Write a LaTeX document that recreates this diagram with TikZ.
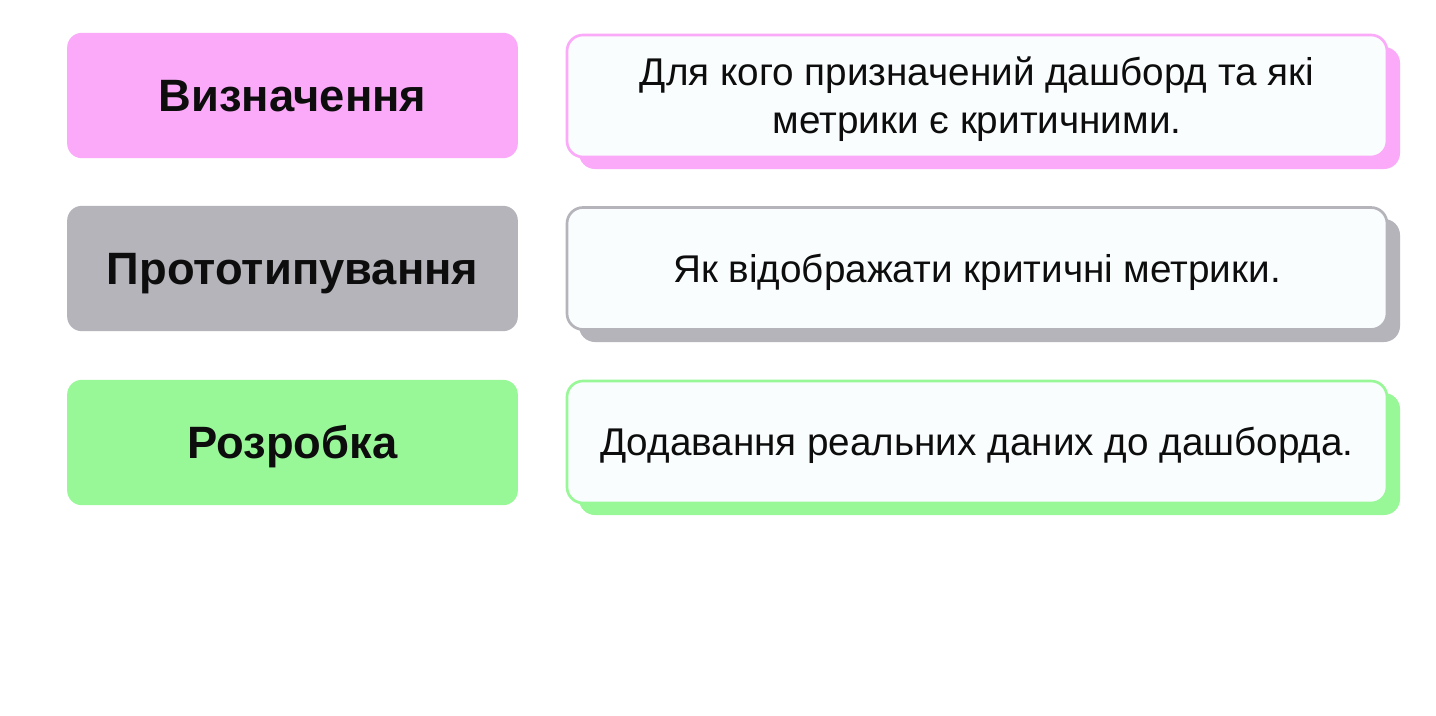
\documentclass[tikz,border=0pt]{standalone}
\usepackage{fontspec}
\setmainfont{Liberation Sans}
\usetikzlibrary{positioning}
\definecolor{pinkstage}{HTML}{FAAAF8}
\definecolor{greystage}{HTML}{B4B4BA}
\definecolor{greenstage}{HTML}{98F898}
\definecolor{notefill}{HTML}{FAFDFE}
\tikzset{
  stage/.style={rounded corners=11pt, minimum width=338pt, minimum height=94pt, inner sep=0pt,
    text height=24.3pt, text depth=0pt,
    font=\fontsize{34}{40}\selectfont\bfseries, text=black!95},
  note/.style={rounded corners=12pt, minimum width=615pt, minimum height=91.5pt, inner sep=0pt,
    text height=20.8pt, text depth=0pt,
    fill=notefill, line width=2pt, align=center, font=\fontsize{29}{36}\selectfont, text=black!95},
}
\begin{document}
\begin{tikzpicture}[x=0.75pt, y=-0.75pt]
			%%%%% START %%%%%
			\useasboundingbox[fill=white] (0, 0) rectangle (1436, 715);
			
			\node[stage, fill=pinkstage] (def) at (292.5, 95.5) {Визначення};
			\node[stage, fill=greystage] (proto) at (292.5, 268.5) {Прототипування};
			\node[stage, fill=greenstage] (dev) at (292.5, 442.5) {Розробка};
			
			% shadows under the notes
			\fill[pinkstage, rounded corners=12pt] (579, 47) rectangle (1400, 169);
			\fill[greystage, rounded corners=12pt] (579, 219) rectangle (1400, 342);
			\fill[greenstage, rounded corners=12pt] (579, 393) rectangle (1400, 515);
			
			\node[note, draw=pinkstage, text height=56.8pt] (defnote) at (977, 96) {Для кого призначений дашборд та які\\метрики є критичними.};
			\node[note, draw=greystage] (protonote) at (977, 268.5) {Як відображати критичні метрики.};
			\node[note, draw=greenstage] (devnote) at (977, 442) {Додавання реальних даних до дашборда.};
			
			%%%%% END %%%%%
		\end{tikzpicture}
\end{document}
